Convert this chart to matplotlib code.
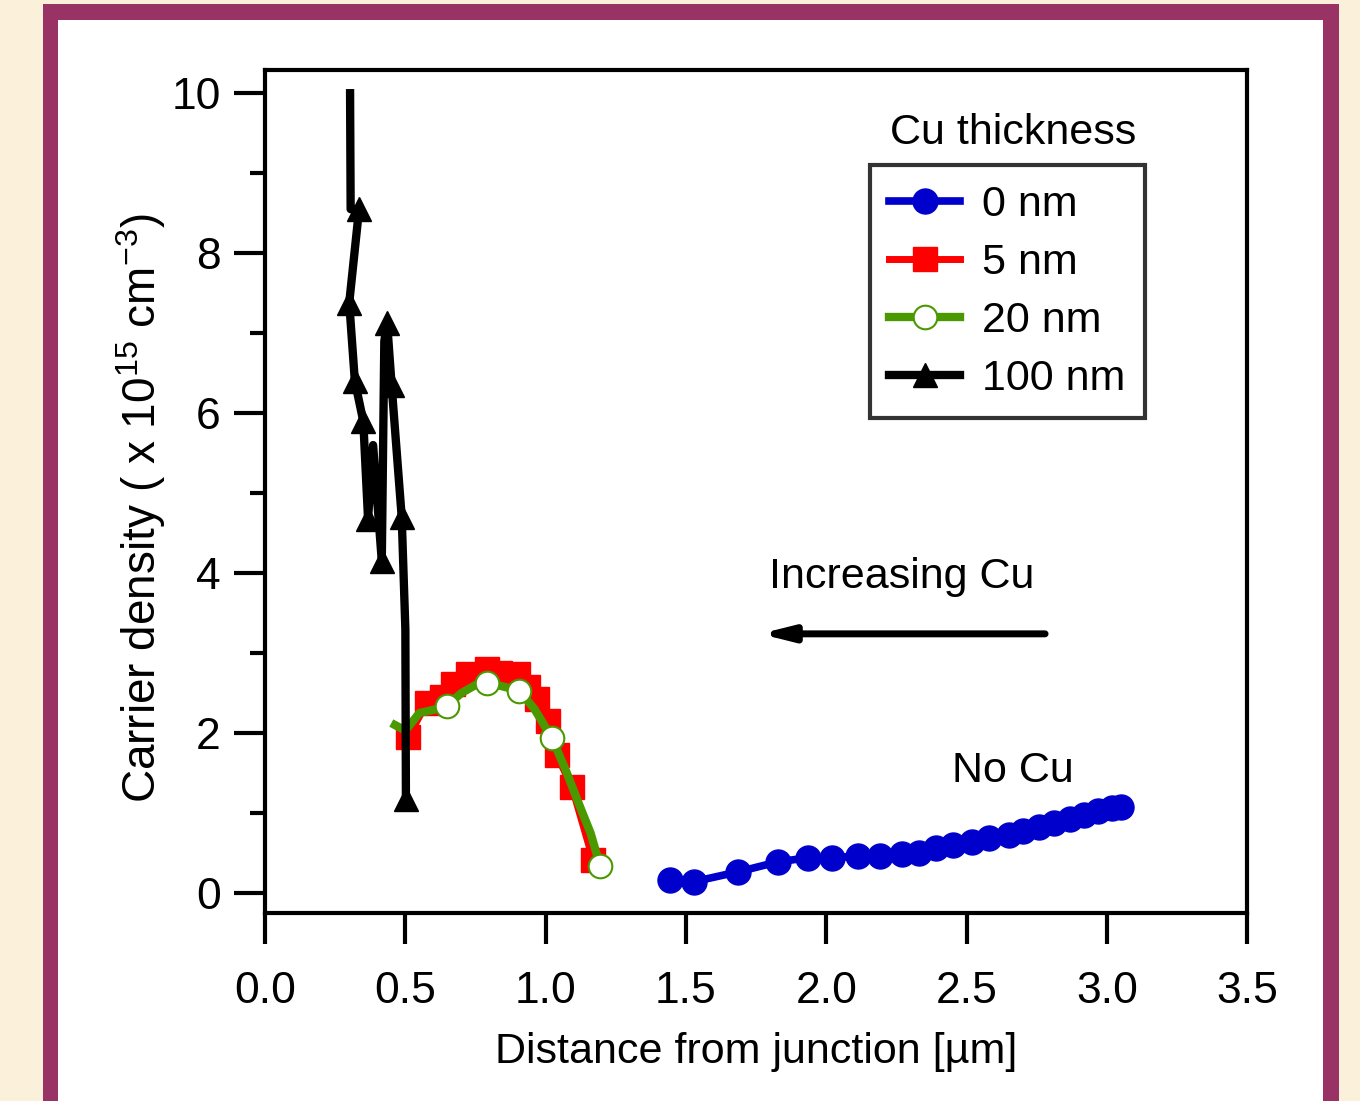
import matplotlib.pyplot as plt
from matplotlib.patches import Rectangle

plt.rcParams['font.family'] = ['Liberation Sans', 'DejaVu Sans']
plt.rcParams['mathtext.default'] = 'regular'

# 0 nm Cu
x0 = [1.443, 1.527, 1.687, 1.829, 1.936, 2.02, 2.114, 2.19, 2.27, 2.33, 2.39,
      2.45, 2.52, 2.58, 2.65, 2.70, 2.76, 2.81, 2.87, 2.92, 2.97, 3.02, 3.05]
y0 = [0.16, 0.14, 0.265, 0.39, 0.44, 0.44, 0.46, 0.46, 0.49, 0.50, 0.56,
      0.60, 0.64, 0.69, 0.73, 0.78, 0.83, 0.87, 0.93, 0.98, 1.03, 1.06, 1.07]

# 5 nm Cu
x5 = [0.511, 0.577, 0.630, 0.670, 0.724, 0.790, 0.837, 0.903, 0.937, 0.969,
      1.009, 1.040, 1.094, 1.169]
y5 = [1.95, 2.38, 2.45, 2.61, 2.74, 2.80, 2.75, 2.74, 2.57, 2.43,
      2.15, 1.72, 1.32, 0.41]

# 20 nm Cu
x20 = [0.463, 0.50, 0.55, 0.60, 0.647, 0.70, 0.75, 0.79, 0.85, 0.906,
       0.96, 1.022, 1.07, 1.12, 1.16, 1.194]
y20 = [2.10, 2.03, 2.25, 2.29, 2.34, 2.50, 2.60, 2.63, 2.58, 2.53,
       2.30, 1.94, 1.55, 1.10, 0.75, 0.34]
mark20 = [4, 7, 9, 11, 15]

# 100 nm Cu
x100 = [0.303, 0.305, 0.335, 0.300, 0.320, 0.350, 0.367, 0.385, 0.416,
        0.425, 0.435, 0.451, 0.487, 0.500, 0.502]
y100 = [10.0, 8.55, 8.55, 7.38, 6.40, 5.90, 4.68, 5.60, 4.15,
        6.90, 7.13, 6.35, 4.70, 3.30, 1.18]
mark100 = [2, 3, 4, 5, 6, 8, 10, 11, 12, 14]

fig = plt.figure(figsize=(13.6, 11.01), dpi=100)
fig.patch.set_facecolor('#fbf0d9')

# maroon frame with white panel
fig.add_artist(Rectangle((0.0316, 0), 0.953, 0.9964, transform=fig.transFigure,
                         facecolor='#993366', edgecolor='none', zorder=-3))
fig.add_artist(Rectangle((0.0426, 0), 0.9302, 0.9818, transform=fig.transFigure,
                         facecolor='white', edgecolor='none', zorder=-2))

ax = fig.add_axes([0.1949, 0.1708, 0.7221, 0.7656])
ax.set_facecolor('white')

l0, = ax.plot(x0, y0, color='#0000cc', lw=5.5, marker='o', ms=18, mec='#0000cc',
              mfc='#0000cc', zorder=3)
l5, = ax.plot(x5, y5, color='#ff0000', lw=5, marker='s', ms=17, mec='#ff0000',
              mfc='#ff0000', zorder=2)
l20, = ax.plot(x20, y20, color='#4a9900', lw=6, marker='o', ms=17, mec='#4a9900',
               mfc='white', mew=1.5, markevery=mark20, zorder=4)
l100, = ax.plot(x100, y100, color='black', lw=6, marker='^', ms=17, mec='black',
                mfc='black', markevery=mark100, zorder=5)

ax.set_xlim(0, 3.5)
ax.set_ylim(-0.25, 10.29)
ax.set_xticks([0, 0.5, 1.0, 1.5, 2.0, 2.5, 3.0, 3.5])
ax.set_xticklabels(['0.0', '0.5', '1.0', '1.5', '2.0', '2.5', '3.0', '3.5'])
ax.set_yticks([0, 2, 4, 6, 8, 10])
ax.set_yticks([1, 3, 5, 7, 9], minor=True)

for s in ax.spines.values():
    s.set_linewidth(3)
ax.tick_params(axis='both', which='major', direction='out', length=22, width=3,
               labelsize=32)
ax.tick_params(axis='x', pad=20)
ax.tick_params(axis='y', pad=10)
ax.tick_params(axis='y', which='minor', direction='out', length=11, width=3)

ax.set_xlabel('Distance from junction [µm]', fontsize=31, labelpad=14)
ax.set_ylabel('Carrier density ( x 10$^{15}$ cm$^{-3}$)', fontsize=33)
ax.yaxis.set_label_coords(-0.099, 0.48)

ax.annotate('', xy=(1.764, 3.24), xytext=(2.78, 3.24),
            arrowprops=dict(arrowstyle='-|>,head_length=1.8,head_width=0.45',
                            color='black', lw=5, shrinkA=0, shrinkB=0))
ax.text(2.27, 3.95, 'Increasing Cu', fontsize=31, ha='center', va='center')
ax.text(2.666, 1.53, 'No Cu', fontsize=31, ha='center', va='center')

ax.text(2.666, 9.5, 'Cu thickness', fontsize=31, ha='center', va='center')
leg = ax.legend([l0, l5, l20, l100], ['0 nm', '5 nm', '20 nm', '100 nm'],
                loc='upper left', bbox_to_anchor=(0.616, 0.887), borderaxespad=0,
                fontsize=31, frameon=True, fancybox=False, edgecolor='black',
                handlelength=1.65, handletextpad=0.5, labelspacing=0.42,
                borderpad=0.45)
leg.get_frame().set_linewidth(3)

fig.savefig('out.png', dpi=100, facecolor=fig.get_facecolor())
